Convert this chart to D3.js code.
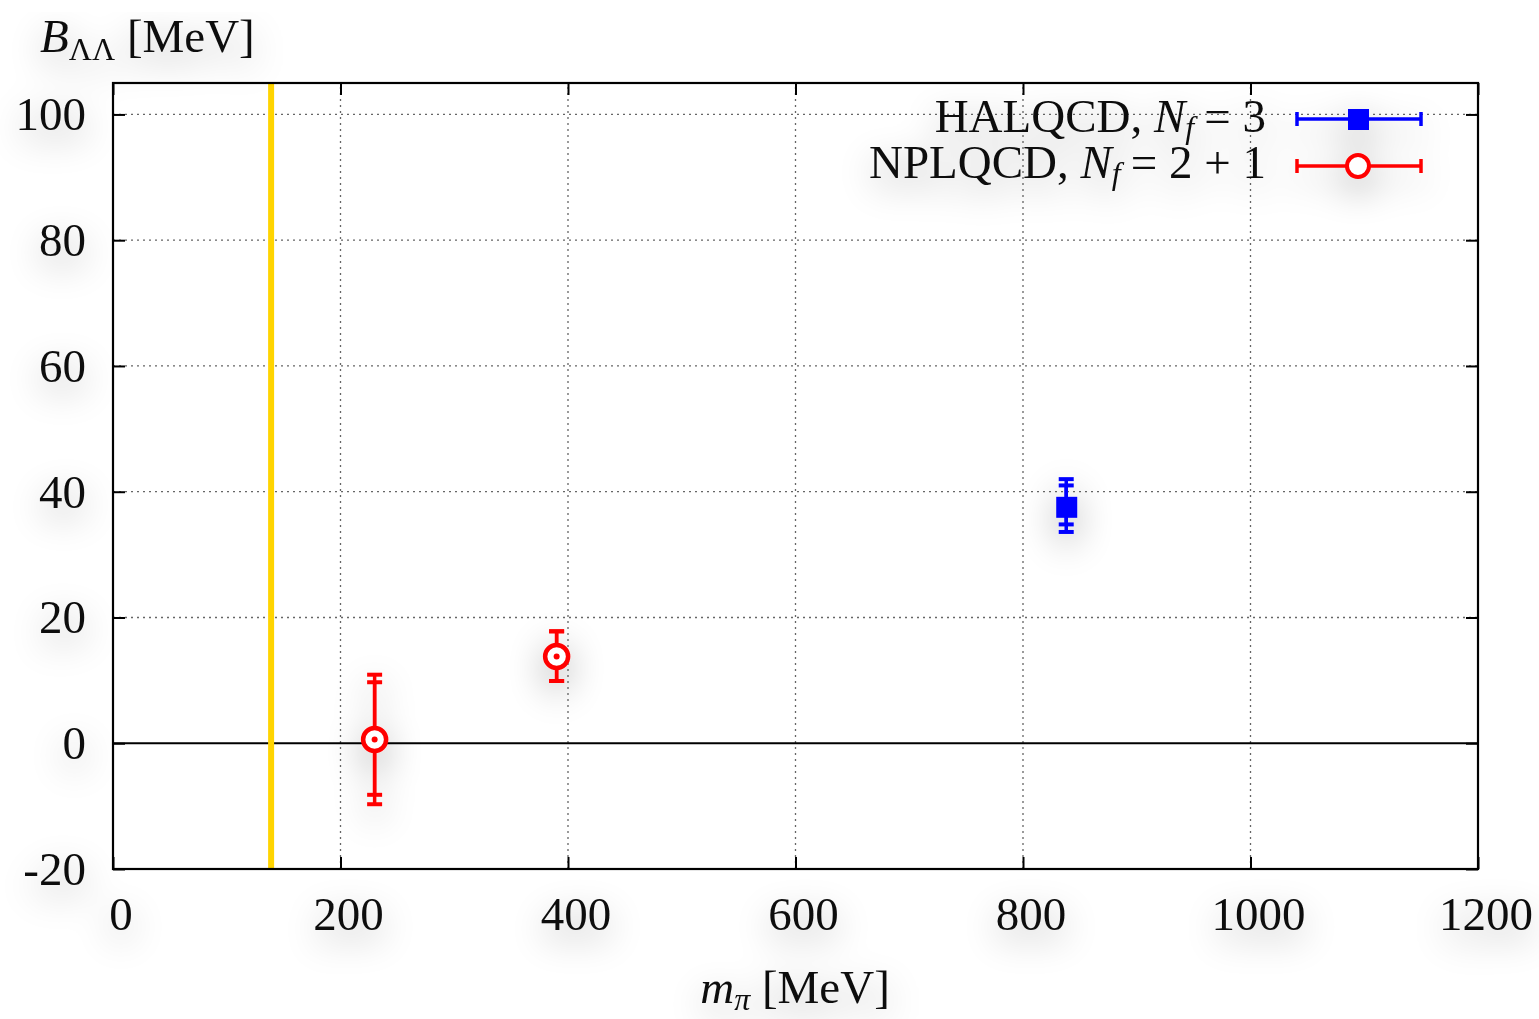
<!DOCTYPE html>
<html>
<head>
<meta charset="utf-8">
<script src="https://cdn.jsdelivr.net/npm/d3@7"></script>
<style>
  body { margin: 0; background: #fff; }
  text { font-family: "Liberation Serif", "DejaVu Serif", serif; fill: #111; }
</style>
</head>
<body>
<svg id="chart" width="1539" height="1019"></svg>
<script>
// axis ticks
const xTicks = [0, 200, 400, 600, 800, 1000, 1200];
const yTicks = [-20, 0, 20, 40, 60, 80, 100];

// physical pion mass (yellow line)
const mpiPhys = [139];

// HALQCD, Nf = 3
const halMpi = [838];
const halB = [37.6];
const halStatLo = [34.8];
const halStatHi = [41.0];
const halTotLo = [33.6];
const halTotHi = [42.0];

// NPLQCD, Nf = 2+1
const npMpi = [230, 390];
const npB = [0.6, 13.8];
const npStatLo = [-8.2, 9.9];
const npStatHi = [9.7, 17.8];
const npTotLo = [-9.7, 9.9];
const npTotHi = [10.9, 17.8];

const margin = { left: 113, right: 61, top: 83, bottom: 150 };
const W = 1539, H = 1019;
const FS = 47;
const svg = d3.select("#chart");

// soft grey glow that sits under text and markers
let defs = svg.append("defs");
let f = defs.append("filter").attr("id", "shadow")
  .attr("filterUnits", "userSpaceOnUse")
  .attr("x", 0).attr("y", 0).attr("width", W).attr("height", H);
f.append("feGaussianBlur").attr("in", "SourceAlpha").attr("stdDeviation", 18).attr("result", "b");
f.append("feOffset").attr("in", "b").attr("dy", 12).attr("result", "o");
f.append("feComponentTransfer").attr("in", "o").attr("result", "s")
  .append("feFuncA").attr("type", "linear").attr("slope", 0.34);
let m = f.append("feMerge");
m.append("feMergeNode").attr("in", "s");
m.append("feMergeNode").attr("in", "SourceGraphic");

const x = d3.scaleLinear().domain([0, 1200]).range([margin.left, W - margin.right]);
const y = d3.scaleLinear().domain([-20, 105]).range([H - margin.bottom, margin.top]);

// grid
let grid = svg.append("g");
grid.selectAll("line.gx").data(xTicks.slice(1, -1)).enter().append("line")
  .attr("x1", d => x(d)).attr("x2", d => x(d))
  .attr("y1", y(-20)).attr("y2", y(105))
  .attr("stroke", "#666").attr("stroke-width", 1.3).attr("stroke-dasharray", "2,4");
grid.selectAll("line.gy").data(yTicks.slice(1).filter(d => d !== 0)).enter().append("line")
  .attr("x1", x(0)).attr("x2", x(1200))
  .attr("y1", d => y(d)).attr("y2", d => y(d))
  .attr("stroke", "#666").attr("stroke-width", 1.3).attr("stroke-dasharray", "2,4");

// zero line
svg.append("line")
  .attr("x1", x(0)).attr("x2", x(1200)).attr("y1", y(0)).attr("y2", y(0))
  .attr("stroke", "#000").attr("stroke-width", 2);

// physical point
svg.selectAll("line.phys").data(mpiPhys).enter().append("line")
  .attr("x1", d => x(d)).attr("x2", d => x(d))
  .attr("y1", y(-20)).attr("y2", y(105))
  .attr("stroke", "#ffd400").attr("stroke-width", 6);

// axes with inward ticks, then the frame
function tickAxis(axis, tx, ty) {
  svg.append("g").attr("transform", `translate(${tx},${ty})`)
    .call(axis.tickSize(-12).tickFormat(""))
    .call(g => g.select(".domain").remove())
    .selectAll("line").attr("stroke", "#000").attr("stroke-width", 2);
}
tickAxis(d3.axisBottom(x).tickValues(xTicks), 0, y(-20));
tickAxis(d3.axisTop(x).tickValues(xTicks), 0, y(105));
tickAxis(d3.axisLeft(y).tickValues(yTicks), x(0), 0);
tickAxis(d3.axisRight(y).tickValues(yTicks), x(1200), 0);

svg.append("rect")
  .attr("x", x(0)).attr("y", y(105))
  .attr("width", x(1200) - x(0)).attr("height", y(-20) - y(105))
  .attr("fill", "none").attr("stroke", "#000").attr("stroke-width", 2.2);

// tick labels
let labels = svg.append("g").attr("filter", "url(#shadow)");
labels.selectAll("text.xl").data(xTicks).enter().append("text")
  .attr("x", d => x(d) + 8).attr("y", 930)
  .attr("text-anchor", "middle").attr("font-size", FS)
  .text(d => d);
labels.selectAll("text.yl").data(yTicks).enter().append("text")
  .attr("x", 86).attr("y", d => y(d) + 16)
  .attr("text-anchor", "end").attr("font-size", FS)
  .text(d => d);

// axis titles
let yt = labels.append("text").attr("x", 40).attr("y", 52).attr("font-size", FS);
yt.append("tspan").attr("font-style", "italic").text("B");
yt.append("tspan").attr("font-size", 32).attr("dy", 8).text("ΛΛ");
yt.append("tspan").attr("dy", -8).text(" [MeV]");

let xt = labels.append("text").attr("x", 795).attr("y", 1003).attr("text-anchor", "middle").attr("font-size", FS);
xt.append("tspan").attr("font-style", "italic").text("m");
xt.append("tspan").attr("font-style", "italic").attr("font-size", 32).attr("dy", 7).text("π");
xt.append("tspan").attr("dy", -7).text(" [MeV]");

// error bars helper
function errorBars(g, xs, lo, hi, color, capW) {
  g.selectAll(null).data(xs).enter().append("line")
    .attr("x1", d => x(d)).attr("x2", d => x(d))
    .attr("y1", (d, i) => y(lo[i])).attr("y2", (d, i) => y(hi[i]))
    .attr("stroke", color).attr("stroke-width", 3.5);
  [lo, hi].forEach(arr => {
    g.selectAll(null).data(xs).enter().append("line")
      .attr("x1", d => x(d) - capW / 2).attr("x2", d => x(d) + capW / 2)
      .attr("y1", (d, i) => y(arr[i])).attr("y2", (d, i) => y(arr[i]))
      .attr("stroke", color).attr("stroke-width", 4);
  });
}

// HALQCD points
let hal = svg.append("g").attr("filter", "url(#shadow)");
errorBars(hal, halMpi, halTotLo, halTotHi, "#0000ff", 15);
errorBars(hal, halMpi, halStatLo, halStatHi, "#0000ff", 15);
hal.selectAll("rect").data(halMpi).enter().append("rect")
  .attr("x", d => x(d) - 10).attr("y", (d, i) => y(halB[i]) - 10)
  .attr("width", 21).attr("height", 21).attr("fill", "#0000ff");

// NPLQCD points
let np = svg.append("g").attr("filter", "url(#shadow)");
errorBars(np, npMpi, npTotLo, npTotHi, "#ff0000", 15);
errorBars(np, npMpi, npStatLo, npStatHi, "#ff0000", 15);
np.selectAll("circle.o").data(npMpi).enter().append("circle")
  .attr("cx", d => x(d)).attr("cy", (d, i) => y(npB[i]))
  .attr("r", 11.5).attr("fill", "#fff").attr("stroke", "#ff0000").attr("stroke-width", 4.5);
np.selectAll("circle.c").data(npMpi).enter().append("circle")
  .attr("cx", d => x(d)).attr("cy", (d, i) => y(npB[i]))
  .attr("r", 3).attr("fill", "#ff0000");

// legend
let leg = svg.append("g").attr("filter", "url(#shadow)");
function legendText(yy, name, rhs) {
  let t = leg.append("text").attr("x", 1266).attr("y", yy).attr("text-anchor", "end").attr("font-size", FS);
  t.append("tspan").text(name + ", ");
  t.append("tspan").attr("font-style", "italic").text("N");
  t.append("tspan").attr("font-style", "italic").attr("font-size", 32).attr("dy", 6).text("f");
  t.append("tspan").attr("dy", -6).attr("dx", 10).text("= " + rhs);
}
legendText(132, "HALQCD", "3");
legendText(178, "NPLQCD", "2 + 1");

const lx1 = 1297, lx2 = 1421, lxm = 1358;
[[119, "#0000ff"], [166, "#ff0000"]].forEach(([ly, c]) => {
  leg.append("line").attr("x1", lx1).attr("x2", lx2).attr("y1", ly).attr("y2", ly)
    .attr("stroke", c).attr("stroke-width", 3.5);
  [lx1, lx2].forEach(cx => leg.append("line").attr("x1", cx).attr("x2", cx)
    .attr("y1", ly - 7).attr("y2", ly + 7).attr("stroke", c).attr("stroke-width", 3.5));
});
leg.append("rect").attr("x", lxm - 10).attr("y", 109).attr("width", 21).attr("height", 21).attr("fill", "#0000ff");
leg.append("circle").attr("cx", lxm).attr("cy", 166).attr("r", 11)
  .attr("fill", "#fff").attr("stroke", "#ff0000").attr("stroke-width", 4);
</script>
</body>
</html>
